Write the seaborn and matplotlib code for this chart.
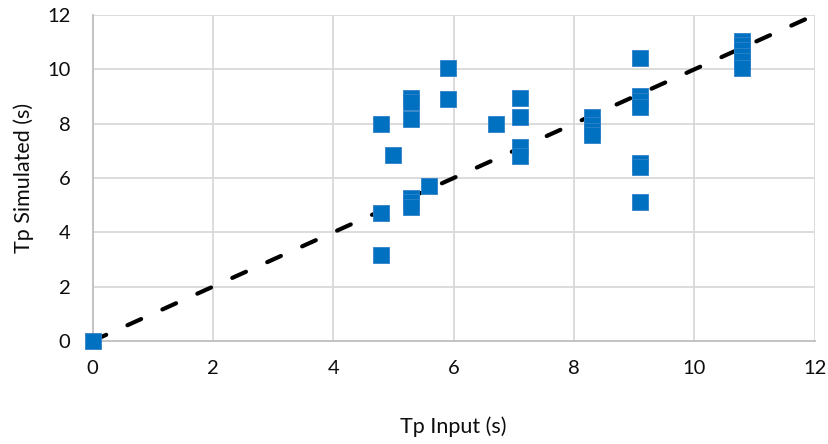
import matplotlib
matplotlib.use("Agg")
import matplotlib.pyplot as plt
import seaborn as sns
import pandas as pd

# Peak period: model input vs. simulated result
tp_input = [0.0,
            4.8, 4.8, 4.8,
            5.0,
            5.3, 5.3, 5.3, 5.3, 5.3, 5.3,
            5.6,
            5.9, 5.9,
            6.7,
            7.1, 7.1, 7.1, 7.1,
            8.3, 8.3, 8.3, 8.3,
            9.1, 9.1, 9.1, 9.1, 9.1, 9.1, 9.1,
            10.8, 10.8, 10.8, 10.8, 10.8, 10.8]
tp_simulated = [0.0,
                8.0, 4.7, 3.16,
                6.85,
                8.95, 8.8, 8.18, 5.25, 5.1, 4.95,
                5.72,
                10.07, 8.91,
                8.0,
                8.94, 8.26, 7.13, 6.8,
                8.25, 7.95, 7.75, 7.6,
                10.43, 9.03, 8.85, 8.63, 6.54, 6.39, 5.11,
                11.05, 10.9, 10.7, 10.5, 10.3, 10.05]

# 1:1 reference line
line_x = [0, 12]
line_y = [0, 12]

ticks = [0, 2, 4, 6, 8, 10, 12]

sns.set_theme(style="white")
plt.rcParams["font.family"] = ["Lato", "DejaVu Sans"]

fig = plt.figure(figsize=(8.29, 4.44), dpi=100)
ax = fig.add_axes([0.1116, 0.232, 0.871, 0.734])

df = pd.DataFrame({"Tp Input (s)": tp_input, "Tp Simulated (s)": tp_simulated})

sns.lineplot(x=line_x, y=line_y, ax=ax, color="black", linewidth=3,
             linestyle=(0, (3.6, 5.6)), dash_capstyle="round", zorder=2)
sns.scatterplot(data=df, x="Tp Input (s)", y="Tp Simulated (s)", ax=ax,
                marker="s", s=118, color="#0070C0", edgecolor="#2F82C9",
                linewidth=0.6, zorder=3, clip_on=False)

ax.set_xlim(0, 12)
ax.set_ylim(0, 12)
ax.set_xticks(ticks)
ax.set_yticks(ticks)
ax.set_xticklabels([str(t) for t in ticks])
ax.set_yticklabels([str(t) for t in ticks])

ax.grid(True, color="#D9D9D9", linewidth=1.3)
ax.set_axisbelow(True)
for side in ["top", "right"]:
    ax.spines[side].set_visible(False)
for side in ["left", "bottom"]:
    ax.spines[side].set_color("#BFBFBF")
    ax.spines[side].set_linewidth(1.3)

ax.tick_params(axis="x", length=0, pad=14, labelsize=14.5, labelcolor="#0D0D0D")
ax.tick_params(axis="y", length=0, pad=16, labelsize=14.5, labelcolor="#0D0D0D")

ax.set_xlabel("Tp Input (s)", fontsize=15.5, color="#0D0D0D", labelpad=28)
ax.set_ylabel("Tp Simulated (s)", fontsize=15.5, color="#0D0D0D", labelpad=9)

fig.savefig("out.png", dpi=100)
